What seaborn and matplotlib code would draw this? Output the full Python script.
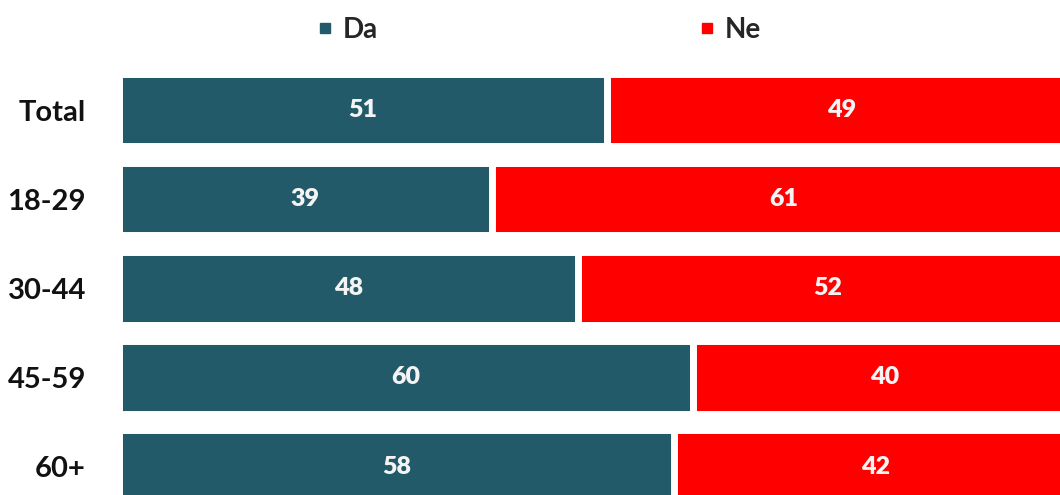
import matplotlib
matplotlib.use('Agg')
import matplotlib.pyplot as plt
import seaborn as sns
import pandas as pd
from matplotlib.lines import Line2D

# data
groups = ['Total', '18-29', '30-44', '45-59', '60+']
da_values = [51, 39, 48, 60, 58]
ne_values = [49, 61, 52, 40, 42]

da_color = '#235a69'
ne_color = '#ff0000'

sns.set_style('white')
plt.rcParams['font.family'] = ['Lato', 'DejaVu Sans']
plt.rcParams['font.weight'] = 'bold'

df = pd.DataFrame({'group': groups, 'Da': da_values, 'Ne': ne_values})
df['total'] = df['Da'] + df['Ne']

fig = plt.figure(figsize=(10.6, 4.95), dpi=100)
ax = fig.add_axes([118.5 / 1060, 0, 1 - 118.5 / 1060, 1])

# stacked bars: full length in red, Da drawn on top; white edges make the gap
sns.barplot(data=df, x='total', y='group', order=groups, color=ne_color,
            saturation=1, width=0.81, edgecolor='white', linewidth=5, ax=ax)
sns.barplot(data=df, x='Da', y='group', order=groups, color=da_color,
            saturation=1, width=0.81, edgecolor='white', linewidth=5, ax=ax)

# value labels centered in each segment
for i, (da, ne) in enumerate(zip(df['Da'], df['Ne'])):
    ax.text(da / 2, i, str(da), ha='center', va='center', color='#f4f4f4',
            fontsize=18, fontweight='heavy')
    ax.text(da + ne / 2, i, str(ne), ha='center', va='center', color='#f4f4f4',
            fontsize=18, fontweight='heavy')

ax.set_xlim(0, 98.3)
ax.set_ylim(4.32, -1.24)
ax.set_xlabel('')
ax.set_ylabel('')
ax.set_xticks([])
ax.tick_params(axis='y', length=0, pad=23.4, labelsize=21, labelcolor='#111111')
for lbl in ax.get_yticklabels():
    lbl.set_fontweight('bold')
sns.despine(ax=ax, left=True, bottom=True)

handles = [
    Line2D([0], [0], marker='s', linestyle='', markersize=7.5,
           markerfacecolor=da_color, markeredgecolor=da_color, label='Da'),
    Line2D([0], [0], marker='s', linestyle='', markersize=7.5,
           markerfacecolor=ne_color, markeredgecolor=ne_color, label='Ne'),
]
fig.legend(handles=handles, loc='center', bbox_to_anchor=(0.5095, 0.939),
           ncol=2, frameon=False, handlelength=0.4,
           handletextpad=0.45, columnspacing=11.65,
           prop={'weight': 'bold', 'size': 20})

plt.savefig('out.png', dpi=100)
plt.close(fig)
